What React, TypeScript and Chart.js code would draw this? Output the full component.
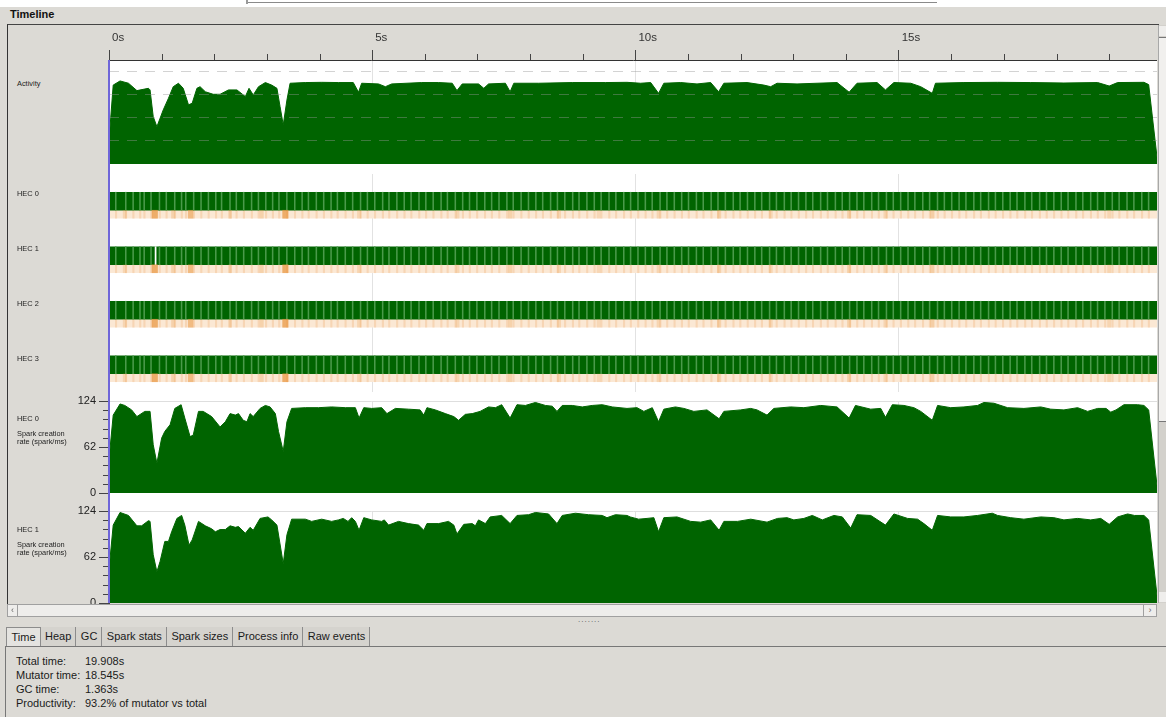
import React, { useEffect, useRef } from "react";
import { Chart, registerables } from "chart.js";

Chart.register(...registerables);
Chart.defaults.font.family = "'Liberation Sans', Arial, sans-serif";

// ---------------- data ----------------
const RUN_END = 19.908; // seconds
const rulerMajor = [0, 5, 10, 15];
const rulerLabels = ["0s", "5s", "10s", "15s"];
const rulerMinor = [1, 2, 3, 4, 6, 7, 8, 9, 11, 12, 13, 14, 16, 17, 18, 19];

const activityGrid = [1, 2, 3, 4];
const ACTIVITY_MAX = 4.52;
const activitySamples: [number, number][] = [
  [0, 0.2], [0.02, 1.62], [0.08, 3.43], [0.21, 3.61], [0.37, 3.51], [0.53, 3.19], [0.75, 3.29], [0.78, 3.22],
  [0.84, 2.06], [0.91, 1.62], [1.03, 2.35], [1.13, 2.86], [1.22, 3.36], [1.32, 3.51], [1.41, 3.29], [1.51, 2.57],
  [1.58, 2.64], [1.67, 3.29], [1.73, 3.36], [1.83, 3.14], [1.98, 3.03], [2.11, 3.03], [2.27, 3.22], [2.43, 3.22],
  [2.59, 2.93], [2.66, 3.29], [2.74, 3.0], [2.84, 3.36], [2.97, 3.54], [3.09, 3.43], [3.19, 3.29], [3.25, 2.49],
  [3.31, 1.7], [3.38, 2.78], [3.44, 3.51], [3.73, 3.54], [4.04, 3.55], [4.36, 3.54], [4.64, 3.54], [4.74, 3.12],
  [4.8, 3.51], [5.12, 3.48], [5.25, 3.36], [5.37, 3.48], [5.94, 3.54], [6.26, 3.54], [6.52, 3.51], [6.61, 3.19],
  [6.71, 3.48], [7.02, 3.48], [7.12, 3.29], [7.21, 3.48], [7.53, 3.51], [7.62, 3.14], [7.69, 3.51], [8.16, 3.51],
  [8.8, 3.54], [9.43, 3.54], [9.84, 3.55], [10.1, 3.51], [10.29, 3.54], [10.44, 3.07], [10.54, 3.51], [10.86, 3.54],
  [11.17, 3.48], [11.43, 3.54], [11.58, 3.14], [11.68, 3.51], [12.12, 3.54], [12.44, 3.43], [12.57, 3.36], [12.69, 3.51],
  [13.07, 3.48], [13.45, 3.51], [13.83, 3.54], [14.06, 3.12], [14.21, 3.51], [14.59, 3.54], [14.75, 3.22], [14.91, 3.54],
  [15.23, 3.51], [15.42, 3.36], [15.64, 3.07], [15.7, 3.51], [16.24, 3.54], [16.88, 3.55], [17.51, 3.54], [18.14, 3.52],
  [18.78, 3.54], [19.0, 3.39], [19.16, 3.54], [19.66, 3.55], [19.75, 3.45], [19.908, 0.3],
];

const hecIds = [0, 1, 2, 3];
const hecLabels = ["HEC 0", "HEC 1", "HEC 2", "HEC 3"];
const gcTimes = [
  0.12, 0.31, 0.45, 0.58, 0.66, 0.79, 0.95, 1.08, 1.24, 1.37, 1.45, 1.6, 1.74, 1.88, 2.02, 2.13, 2.29, 2.41, 2.55,
  2.7, 2.83, 2.97, 3.1, 3.22, 3.37, 3.52, 3.66, 3.78, 3.93, 4.07, 4.21, 4.33, 4.48, 4.62, 4.77, 4.9, 5.04, 5.19,
  5.31, 5.46, 5.6, 5.73, 5.88, 6.01, 6.15, 6.3, 6.42, 6.57, 6.71, 6.84, 6.98, 7.13, 7.26, 7.4, 7.55, 7.67, 7.82,
  7.96, 8.1, 8.23, 8.38, 8.51, 8.65, 8.8, 8.92, 9.07, 9.21, 9.34, 9.49, 9.62, 9.77, 9.9, 10.04, 10.18, 10.31,
  10.46, 10.59, 10.73, 10.87, 11.0, 11.15, 11.28, 11.43, 11.56, 11.7, 11.85, 11.98, 12.12, 12.26, 12.39, 12.54,
  12.67, 12.82, 12.95, 13.09, 13.23, 13.36, 13.51, 13.64, 13.79, 13.92, 14.06, 14.2, 14.33, 14.48, 14.61, 14.76,
  14.89, 15.03, 15.17, 15.3, 15.45, 15.58, 15.73, 15.86, 16.0, 16.14, 16.27, 16.42, 16.55, 16.7, 16.83, 16.97,
  17.11, 17.24, 17.39, 17.52, 17.67, 17.8, 17.94, 18.08, 18.21, 18.36, 18.49, 18.64, 18.77, 18.91, 19.05, 19.18,
  19.33, 19.46, 19.61, 19.74,
];
const gcHotTimes = [0.3, 0.87, 1.22, 1.55, 2.3, 2.9, 3.35, 4.75, 6.62, 7.62, 8.55, 9.3, 10.44, 11.59, 12.57, 14.06, 14.75, 15.64, 19.0];
const gcHotLevels = [0.3, 0.9, 0.35, 0.7, 0.3, 0.35, 0.9, 0.3, 0.3, 0.35, 0.3, 0.25, 0.3, 0.35, 0.3, 0.35, 0.3, 0.4, 0.3];
const idleHec = [1];
const idleStart = [0.875];
const idleEnd = [0.895];

const sparkMajor = [0, 62, 124];
const sparkMinor = [12.4, 24.8, 37.2, 49.6, 74.4, 86.8, 99.2, 111.6];
const spark0Samples: [number, number][] = [
  [0, 30], [0.02, 60], [0.08, 105], [0.21, 120], [0.3, 118], [0.43, 112], [0.53, 103], [0.68, 110], [0.78, 110],
  [0.84, 65], [0.91, 40], [1.0, 74], [1.06, 83], [1.16, 92], [1.25, 114], [1.37, 119], [1.44, 101], [1.54, 76],
  [1.6, 78], [1.7, 110], [1.79, 110], [1.95, 103], [2.11, 89], [2.21, 96], [2.3, 107], [2.4, 105], [2.46, 107],
  [2.55, 98], [2.62, 96], [2.68, 107], [2.74, 103], [2.87, 114], [2.97, 118], [3.06, 116], [3.16, 107], [3.22, 83],
  [3.31, 56], [3.38, 96], [3.47, 114], [3.73, 115], [3.98, 115], [4.23, 116], [4.49, 115], [4.68, 115], [4.75, 101],
  [4.84, 115], [4.99, 114], [5.18, 115], [5.28, 107], [5.44, 114], [5.69, 113], [5.91, 112], [5.98, 105], [6.04, 115],
  [6.2, 112], [6.39, 107], [6.55, 103], [6.64, 98], [6.77, 106], [6.9, 107], [7.05, 110], [7.21, 116], [7.34, 115],
  [7.46, 119], [7.62, 101], [7.75, 119], [7.91, 118], [8.1, 122], [8.29, 118], [8.42, 117], [8.51, 110], [8.61, 118],
  [8.8, 118], [8.99, 116], [9.18, 118], [9.37, 119], [9.56, 116], [9.84, 114], [10.03, 115], [10.16, 110], [10.32, 115],
  [10.44, 96], [10.54, 113], [10.76, 116], [10.92, 114], [11.11, 110], [11.36, 112], [11.59, 100], [11.68, 110],
  [12.0, 112], [12.19, 114], [12.31, 112], [12.5, 105], [12.63, 114], [12.95, 116], [13.2, 115], [13.52, 118],
  [13.83, 116], [14.06, 101], [14.18, 118], [14.47, 113], [14.66, 114], [14.75, 102], [14.88, 119], [15.1, 118],
  [15.29, 115], [15.42, 110], [15.64, 98], [15.74, 118], [15.99, 115], [16.24, 116], [16.5, 118], [16.62, 122],
  [16.81, 121], [17.07, 115], [17.38, 114], [17.7, 116], [17.89, 113], [18.14, 112], [18.4, 115], [18.59, 110],
  [18.78, 114], [18.94, 114], [19.03, 109], [19.13, 112], [19.28, 119], [19.54, 119], [19.66, 118], [19.75, 112],
  [19.908, 10],
];
const spark1Samples: [number, number][] = [
  [0, 30], [0.02, 60], [0.08, 105], [0.21, 122], [0.37, 118], [0.53, 104], [0.62, 104], [0.75, 111], [0.78, 110],
  [0.84, 65], [0.91, 42], [0.97, 56], [1.06, 83], [1.13, 83], [1.19, 96], [1.29, 114], [1.38, 118], [1.44, 105],
  [1.52, 78], [1.58, 85], [1.7, 110], [1.83, 104], [1.95, 100], [2.02, 96], [2.11, 99], [2.21, 99], [2.3, 104],
  [2.4, 102], [2.46, 103], [2.59, 94], [2.68, 102], [2.74, 98], [2.87, 114], [3.02, 116], [3.09, 112], [3.19, 105],
  [3.31, 53], [3.38, 92], [3.47, 113], [3.73, 113], [3.85, 110], [4.04, 113], [4.23, 110], [4.36, 112], [4.45, 114],
  [4.54, 110], [4.61, 115], [4.68, 110], [4.75, 98], [4.84, 115], [4.99, 112], [5.18, 110], [5.23, 112], [5.31, 105],
  [5.5, 110], [5.69, 107], [5.88, 105], [5.98, 98], [6.04, 107], [6.26, 107], [6.45, 110], [6.55, 105], [6.61, 93],
  [6.74, 106], [6.9, 107], [6.96, 104], [7.02, 112], [7.15, 107], [7.24, 116], [7.46, 118], [7.62, 107], [7.75, 118],
  [7.97, 119], [8.1, 122], [8.35, 120], [8.51, 107], [8.61, 118], [8.86, 121], [9.11, 119], [9.37, 118], [9.46, 115],
  [9.62, 119], [9.84, 118], [9.9, 116], [10.06, 113], [10.22, 114], [10.35, 115], [10.44, 96], [10.54, 115],
  [10.79, 116], [11.05, 110], [11.24, 109], [11.43, 112], [11.59, 98], [11.68, 110], [11.94, 110], [12.19, 113],
  [12.5, 109], [12.7, 114], [12.88, 115], [13.01, 112], [13.2, 114], [13.36, 118], [13.55, 112], [13.77, 118],
  [13.93, 116], [14.09, 101], [14.21, 119], [14.47, 118], [14.75, 105], [14.91, 120], [15.17, 114], [15.36, 113],
  [15.48, 107], [15.64, 98], [15.74, 118], [15.99, 116], [16.24, 116], [16.5, 118], [16.78, 121], [16.88, 118],
  [17.13, 115], [17.38, 113], [17.7, 116], [17.95, 115], [18.14, 112], [18.4, 114], [18.65, 112], [18.84, 114],
  [19.0, 106], [19.16, 116], [19.35, 120], [19.48, 118], [19.66, 118], [19.75, 112], [19.908, 10],
];

const tabNames = ["Time", "Heap", "GC", "Spark stats", "Spark sizes", "Process info", "Raw events"];
const statsLabels = ["Total time:", "Mutator time:", "GC time:", "Productivity:"];
const statsValues = ["19.908s", "18.545s", "1.363s", "93.2% of mutator vs total"];

// ---------------- styles ----------------
const GREEN = "#006400";
const BG = "#dcdad5";
const FONT = "'Liberation Sans', Arial, sans-serif";
const PEACH_OFFSET = 0.2385;
const STRIPE_W = 0.017;

const minorTickPlugin = {
  id: "minorTicks",
  afterDraw(chart: any, _args: any, opts: any) {
    if (!opts || !opts.values) return;
    const scale = chart.scales[opts.axis];
    const { ctx, chartArea } = chart;
    ctx.save();
    ctx.strokeStyle = opts.color || "#444";
    ctx.lineWidth = 1;
    ctx.beginPath();
    for (const v of opts.values) {
      const p = Math.round(scale.getPixelForValue(v)) + 0.5;
      if (opts.axis === "x") {
        ctx.moveTo(p, chartArea.top - opts.length);
        ctx.lineTo(p, chartArea.top);
      } else {
        ctx.moveTo(chartArea.left - opts.length, p);
        ctx.lineTo(chartArea.left, p);
      }
    }
    ctx.stroke();
    ctx.restore();
  },
};

const majorGridColor = (c: any) => (c.tick && c.tick.value > 0 ? "#e2e2e2" : "transparent");

function hiddenTimeAxis() {
  return {
    type: "linear",
    min: 0,
    max: RUN_END,
    offset: false,
    afterBuildTicks: (s: any) => {
      s.ticks = rulerMajor.map((v) => ({ value: v }));
    },
    afterFit: (s: any) => {
      s.height = 0;
      s.paddingLeft = 0;
      s.paddingRight = 0;
    },
    ticks: { display: false },
    grid: { color: majorGridColor, drawTicks: false, offset: false },
    border: { display: false },
  };
}

function activityConfig(): any {
  return {
    type: "line",
    data: {
      datasets: [
        {
          data: activitySamples.map(([t, v]) => ({ x: t, y: v })),
          fill: "origin",
          backgroundColor: GREEN,
          borderColor: GREEN,
          borderWidth: 1,
          pointRadius: 0,
          tension: 0,
        },
      ],
    },
    options: {
      animation: false,
      responsive: false,
      devicePixelRatio: 1,
      events: [],
      layout: { padding: 0 },
      plugins: {
        legend: { display: false },
        tooltip: { enabled: false },
        minorTicks: { axis: "x", values: rulerMinor, length: 6, color: "#444" },
      },
      scales: {
        x: {
          type: "linear",
          position: "top",
          min: 0,
          max: RUN_END,
          afterBuildTicks: (s: any) => {
            s.ticks = rulerMajor.map((v) => ({ value: v }));
          },
          afterFit: (s: any) => {
            s.height = 35;
            s.paddingLeft = 0;
            s.paddingRight = 0;
          },
          ticks: {
            autoSkip: false,
            maxRotation: 0,
            align: "start",
            labelOffset: 3,
            padding: 5,
            color: "#333",
            font: { size: 11.5 },
            callback: (v: number) => {
              const i = rulerMajor.indexOf(v);
              return i >= 0 ? rulerLabels[i] : "";
            },
          },
          grid: { color: majorGridColor, tickColor: "#444", tickLength: 10 },
          border: { display: true, color: "#333", width: 1 },
        },
        y: {
          type: "linear",
          min: 0,
          max: ACTIVITY_MAX,
          afterBuildTicks: (s: any) => {
            s.ticks = activityGrid.map((v) => ({ value: v }));
          },
          afterFit: (s: any) => {
            s.width = 0;
          },
          ticks: { display: false },
          grid: { color: "rgba(150,150,150,0.42)", drawTicks: false, z: 1 },
          border: { display: false, dash: [10, 8] },
        },
      },
    },
    plugins: [minorTickPlugin],
  };
}

function hecConfig(): any {
  const common = { grouped: false, borderWidth: 0, borderSkipped: false };
  const runData = hecIds.map((h) => ({ x: [0, RUN_END], y: h }));
  const stripeData = hecIds.flatMap((h) => gcTimes.map((t) => ({ x: [t, t + STRIPE_W], y: h })));
  const idleData = idleHec.map((h, i) => ({ x: [idleStart[i], idleEnd[i]], y: h }));
  const peachData = hecIds.map((h) => ({ x: [0, RUN_END], y: h + PEACH_OFFSET }));
  const peachStripeData = hecIds.flatMap((h) =>
    gcTimes.map((t) => ({ x: [t, t + STRIPE_W * 1.6], y: h + PEACH_OFFSET }))
  );
  const hotData = hecIds.flatMap((h) =>
    gcHotTimes.map((t, i) => {
      const w = 0.02 + 0.035 * gcHotLevels[i];
      return { x: [t - w, t + w], y: h + PEACH_OFFSET };
    })
  );
  const hotColors = hecIds.flatMap(() => gcHotLevels.map((l) => `rgba(232,145,55,${(l * 0.75).toFixed(2)})`));
  return {
    type: "bar",
    data: {
      datasets: [
        { ...common, data: runData, backgroundColor: GREEN, barThickness: 18, order: 6 },
        { ...common, data: stripeData, backgroundColor: "#4a9a4a", barThickness: 18, order: 5 },
        { ...common, data: idleData, backgroundColor: "#ffffff", barThickness: 18, order: 4 },
        { ...common, data: peachData, backgroundColor: "#fbe8d4", barThickness: 8, order: 6 },
        { ...common, data: peachStripeData, backgroundColor: "rgba(238,168,105,0.3)", barThickness: 8, order: 5 },
        { ...common, data: hotData, backgroundColor: hotColors, barThickness: 8, order: 3 },
      ],
    },
    options: {
      indexAxis: "y",
      animation: false,
      responsive: false,
      devicePixelRatio: 1,
      events: [],
      layout: { padding: { top: 10, bottom: 1, left: 0, right: 0 } },
      plugins: { legend: { display: false }, tooltip: { enabled: false } },
      scales: {
        x: hiddenTimeAxis(),
        y: {
          type: "linear",
          min: -0.5,
          max: 3.5,
          reverse: true,
          offset: false,
          grace: 0,
          display: false,
          grid: { offset: false },
        },
      },
    },
  };
}

function sparkConfig(samples: [number, number][]): any {
  return {
    type: "line",
    data: {
      datasets: [
        {
          data: samples.map(([t, v]) => ({ x: t, y: v })),
          fill: "origin",
          backgroundColor: GREEN,
          borderColor: GREEN,
          borderWidth: 1,
          pointRadius: 0,
          tension: 0,
        },
      ],
    },
    options: {
      animation: false,
      responsive: false,
      devicePixelRatio: 1,
      events: [],
      layout: { padding: { top: 8, bottom: 8, left: 0, right: 0 } },
      plugins: {
        legend: { display: false },
        tooltip: { enabled: false },
        minorTicks: { axis: "y", values: sparkMinor, length: 6, color: "#444" },
      },
      scales: {
        x: hiddenTimeAxis(),
        y: {
          type: "linear",
          min: 0,
          max: 124,
          afterBuildTicks: (s: any) => {
            s.ticks = sparkMajor.map((v) => ({ value: v }));
          },
          afterFit: (s: any) => {
            s.width = 69;
            s.paddingTop = 0;
            s.paddingBottom = 0;
          },
          ticks: { color: "#222", font: { size: 11 }, padding: 3, callback: (v: number) => String(v) },
          grid: {
            color: (c: any) => (c.tick && c.tick.value === 124 ? "#dedede" : "transparent"),
            tickColor: "#444",
            tickLength: 10,
          },
          border: { display: true, color: "#444" },
        },
      },
    },
    plugins: [minorTickPlugin],
  };
}

function ChartCanvas(props: { make: () => any; left: number; top: number; width: number; height: number }) {
  const ref = useRef<HTMLCanvasElement>(null);
  useEffect(() => {
    const chart = new Chart(ref.current as HTMLCanvasElement, props.make());
    return () => chart.destroy();
  }, []);
  return (
    <canvas
      ref={ref}
      width={props.width}
      height={props.height}
      style={{ position: "absolute", left: props.left, top: props.top, width: props.width, height: props.height }}
    />
  );
}

function SideLabel(props: { text: string; center: number }) {
  return (
    <div
      style={{
        position: "absolute",
        left: 17,
        top: props.center - 4,
        fontSize: 7.4,
        lineHeight: "8px",
        color: "#222",
        whiteSpace: "nowrap",
      }}
    >
      {props.text}
    </div>
  );
}

export default function App() {
  const hecRowCenters = [194, 249, 304, 359];
  return (
    <div
      style={{
        position: "absolute",
        left: 0,
        top: 0,
        width: 1166,
        height: 717,
        overflow: "hidden",
        background: BG,
        fontFamily: FONT,
      }}
    >
      {/* top strip */}
      <div style={{ position: "absolute", left: 0, top: 0, width: 1166, height: 7, background: "#ffffff" }} />
      <div style={{ position: "absolute", left: 246, top: 0, width: 2, height: 4, background: "#9a9a9a" }} />
      <div style={{ position: "absolute", left: 248, top: 2, width: 689, height: 1, background: "#8a8a8a" }} />

      <div style={{ position: "absolute", left: 10, top: 8, fontSize: 11, fontWeight: "bold", color: "#111" }}>
        Timeline
      </div>

      {/* timeline frame (clipped) */}
      <div
        style={{
          position: "absolute",
          left: 7,
          top: 24,
          width: 1151,
          height: 579,
          borderTop: "1px solid #444",
          borderLeft: "1px solid #333",
          overflow: "hidden",
          background: BG,
        }}
      >
        <div style={{ position: "absolute", left: -8, top: -25, width: 1166, height: 717 }}>
          <div style={{ position: "absolute", left: 109, top: 61, width: 1048, height: 542, background: "#ffffff" }} />
          <ChartCanvas make={activityConfig} left={109} top={25} width={1048} height={139} />
          <ChartCanvas make={hecConfig} left={109} top={164} width={1048} height={229} />
          <ChartCanvas make={() => sparkConfig(spark0Samples)} left={40} top={393} width={1117} height={108} />
          <ChartCanvas make={() => sparkConfig(spark1Samples)} left={40} top={503} width={1117} height={108} />
          <div style={{ position: "absolute", left: 108, top: 60, width: 2, height: 543, background: "#6f66d9" }} />

          <SideLabel text="Activity" center={84} />
          {hecLabels.map((l, i) => (
            <SideLabel key={l} text={l} center={hecRowCenters[i]} />
          ))}
          <SideLabel text="HEC 0" center={419} />
          <SideLabel text="Spark creation" center={434} />
          <SideLabel text="rate (spark/ms)" center={442} />
          <SideLabel text="HEC 1" center={530} />
          <SideLabel text="Spark creation" center={545} />
          <SideLabel text="rate (spark/ms)" center={553} />
        </div>
      </div>

      {/* vertical scrollbar */}
      <div style={{ position: "absolute", left: 1158, top: 25, width: 8, height: 578, background: "#d3d1cc", borderLeft: "1px solid #a8a8a8" }} />
      <div style={{ position: "absolute", left: 1159, top: 26, width: 7, height: 10, background: "#efeeec" }} />
      <div style={{ position: "absolute", left: 1159, top: 37, width: 7, height: 383, background: "#f1f0ee", borderTop: "1px solid #777", borderBottom: "1px solid #777" }} />
      <div style={{ position: "absolute", left: 1159, top: 592, width: 7, height: 10, background: "#efeeec" }} />

      {/* horizontal scrollbar */}
      <div style={{ position: "absolute", left: 7, top: 604, width: 1150, height: 13, background: "#eeedeb", border: "1px solid #a0a0a0", boxSizing: "border-box" }} />
      <div style={{ position: "absolute", left: 7, top: 604, width: 11, height: 13, border: "1px solid #a0a0a0", boxSizing: "border-box", fontSize: 9, lineHeight: "10px", textAlign: "center", color: "#666" }}>‹</div>
      <div style={{ position: "absolute", left: 1143, top: 604, width: 14, height: 13, border: "1px solid #a0a0a0", boxSizing: "border-box", fontSize: 9, lineHeight: "10px", textAlign: "center", color: "#666" }}>›</div>
      <div style={{ position: "absolute", left: 578, top: 615, fontSize: 8, letterSpacing: 1, color: "#555" }}>.......</div>

      {/* tabs */}
      <div style={{ position: "absolute", left: 6, top: 627, height: 19, display: "flex", fontSize: 11, color: "#1a1a1a" }}>
        {tabNames.map((t, i) => (
          <div
            key={t}
            style={{
              padding: "0 4px 0 4.5px",
              lineHeight: "19px",
              borderRight: "1px solid #8c8c8c",
              borderTop: i === 0 ? "1px solid #8c8c8c" : "none",
              borderLeft: i === 0 ? "1px solid #8c8c8c" : "none",
              background: i === 0 ? "#e4e3e0" : "#d5d3ce",
              boxSizing: "border-box",
              height: i === 0 ? 20 : 19,
            }}
          >
            {t}
          </div>
        ))}
      </div>

      {/* info panel */}
      <div style={{ position: "absolute", left: 5, top: 646, width: 1161, height: 71, borderTop: "1px solid #777", borderLeft: "1px solid #777", boxSizing: "border-box" }} />
      {statsLabels.map((l, i) => (
        <React.Fragment key={l}>
          <div style={{ position: "absolute", left: 16, top: 655 + i * 14, fontSize: 11, lineHeight: "13px", color: "#1a1a1a" }}>{l}</div>
          <div style={{ position: "absolute", left: 85, top: 655 + i * 14, fontSize: 11, lineHeight: "13px", color: "#1a1a1a" }}>{statsValues[i]}</div>
        </React.Fragment>
      ))}
    </div>
  );
}
